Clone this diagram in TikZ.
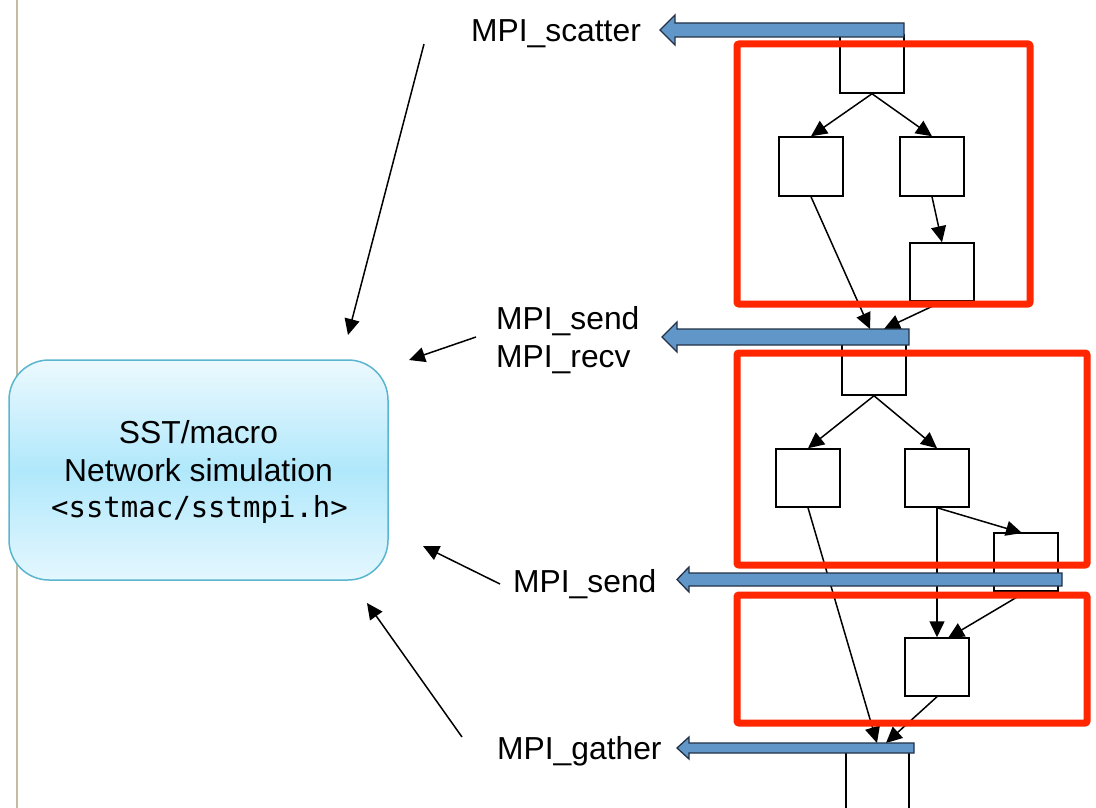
\documentclass[tikz,border=0pt]{standalone}
\usepackage{fontspec}
\setmainfont{Liberation Sans}
\newfontfamily\monof{DejaVu Sans Mono}
\usetikzlibrary{arrows.meta,calc}
\definecolor{redframe}{RGB}{255,38,0}
\definecolor{bluefill}{RGB}{96,150,200}
\definecolor{blueedge}{RGB}{35,50,70}
\definecolor{simedge}{RGB}{90,182,206}
\definecolor{simtop}{RGB}{236,249,254}
\definecolor{simmid}{RGB}{176,232,251}
\definecolor{simbot}{RGB}{228,247,254}
\definecolor{sideline}{RGB}{196,188,162}
\begin{document}
\begin{tikzpicture}[x=1pt,y=-1pt,
  taskbox/.style={draw=black,fill=white,line width=1.5pt,minimum width=64pt,minimum height=58pt,inner sep=0pt},
  conn/.style={line width=1.5pt,-{Triangle[length=16pt,width=15pt]}},
  phase/.style={draw=redframe,line width=7pt,rounded corners=2pt},
  mpiarrow/.style={draw=blueedge,fill=bluefill,line width=1.3pt,line join=miter},
  lbl/.style={font=\fontsize{31.8}{37}\selectfont,anchor=base west,inner sep=0pt},
  simtext/.style={font=\fontsize{31.8}{37}\selectfont,anchor=base,inner sep=0pt},
  simbox/.style={draw=simedge,line width=1.5pt,rounded corners=40pt,minimum width=379pt,minimum height=220pt,
    top color=simtop,bottom color=simbot,middle color=simmid,inner sep=0pt}
]
\useasboundingbox (0,0) rectangle (1096,808);
\clip (0,0) rectangle (1096,808);
\fill[white] (0,0) rectangle (1096,808);
\draw[sideline,line width=2pt] (17,0) -- (17,808);

% simulator box
\node[simbox] (sim) at (198.5,470) {};
\node[simtext] (s1) at (198.5,443) {SST/macro};
\node[simtext] (s2) at (198.5,481) {Network simulation};
\node[simtext,font=\monof\fontsize{29}{34}\selectfont] (s3) at (199.5,517) {<sstmac/sstmpi.h>};

% labels
\node[lbl] (lscatter) at (471,42) {MPI\_scatter};
\node[lbl] (lsend1) at (496,329) {MPI\_send};
\node[lbl] (lrecv) at (496,367) {MPI\_recv};
\node[lbl] (lsend2) at (513,592) {MPI\_send};
\node[lbl] (lgather) at (497,759) {MPI\_gather};

% label arrows
\coordinate (p1s) at (424,44);  \coordinate (p1e) at (348,335);
\coordinate (p2s) at (476,337); \coordinate (p2e) at (409,360);
\coordinate (p3s) at (500,584); \coordinate (p3e) at (423,546);
\coordinate (p4s) at (462,737); \coordinate (p4e) at (367,603);
\draw[conn] (p1s) -- (p1e);
\draw[conn] (p2s) -- (p2e);
\draw[conn] (p3s) -- (p3e);
\draw[conn] (p4s) -- (p4e);

% task boxes
\node[taskbox] (A1) at (872,64) {};
\node[taskbox,minimum height=59pt] (B1) at (811,166.5) {};
\node[taskbox,minimum height=59pt] (C1) at (932,166.5) {};
\node[taskbox] (D1) at (942,272) {};
\node[taskbox] (A2) at (874,366) {};
\node[taskbox] (B2) at (808,478) {};
\node[taskbox] (C2) at (937,478) {};
\node[taskbox] (D2) at (1026,562) {};
\node[taskbox] (E) at (937,667) {};
\node[taskbox,minimum width=63pt,minimum height=100pt] (F) at (877.5,800) {};

\coordinate (t1) at (870,329);
\coordinate (t2) at (884,329);
\coordinate (t3) at (877,743);
\coordinate (t4) at (886,743);
\coordinate (Ein) at (948,638);
\coordinate (Din) at (1022,533);

\draw[conn] (A1.south) -- (B1.north);
\draw[conn] (A1.south) -- (C1.north);
\draw[conn] (C1.south) -- (D1.north);
\draw[conn] (B1.south) -- (t1);
\draw[conn] (D1.south) -- (t2);
\draw[conn] (A2.south) -- (B2.north);
\draw[conn] (A2.south) -- (C2.north);
\draw[conn] (C2.south) -- (Din);
\draw[conn] (C2.south) -- (E.north);
\draw[conn] (D2.south) -- (Ein);
\draw[conn] (B2.south) -- (t3);
\draw[conn] (E.south) -- (t4);

% phases
\draw[phase] (737,44) rectangle (1030,304);
\draw[phase] (737,353) rectangle (1087,565);
\draw[phase] (737,595) rectangle (1087,723);

% MPI block arrows
\draw[mpiarrow] (904,23) -- (675,23) -- (675,15) -- (660,30) -- (675,45) -- (675,37) -- (904,37) -- cycle;
\draw[mpiarrow] (909,329) -- (677,329) -- (677,322) -- (662,337) -- (677,352) -- (677,345) -- (909,345) -- cycle;
\draw[mpiarrow] (1062,573) -- (689,573) -- (689,567) -- (677,579.5) -- (689,592) -- (689,586) -- (1062,586) -- cycle;
\draw[mpiarrow] (914,743) -- (689,743) -- (689,737) -- (677,748) -- (689,759) -- (689,753) -- (914,753) -- cycle;
\end{tikzpicture}
\end{document}
